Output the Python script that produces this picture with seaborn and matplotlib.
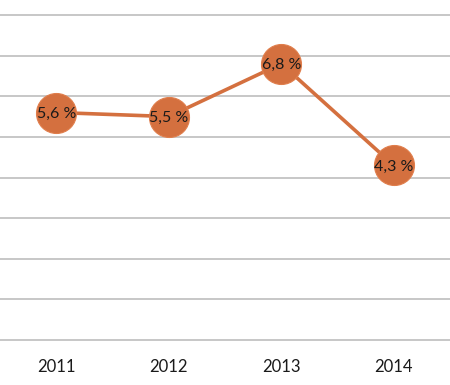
import pandas as pd
import matplotlib.pyplot as plt
import seaborn as sns

sns.set_style("white")
plt.rcParams['font.family'] = ['Lato', 'DejaVu Sans']

# data
years = ["2011", "2012", "2013", "2014"]
values = [5.6, 5.5, 6.8, 4.3]

df = pd.DataFrame({"year": years, "value": values})
orange = "#d4703f"

fig = plt.figure(figsize=(4.5, 3.85), dpi=100)
ax = fig.add_axes([0, 45 / 385, 1, 1 - 15 / 385 - 45 / 385])

sns.lineplot(data=df, x="year", y="value", ax=ax, color=orange, linewidth=2.6,
             marker="o", markersize=28.8, markeredgecolor="#e07e4c",
             markeredgewidth=0.8, sort=False)

# value labels with comma decimal
for i, v in enumerate(values):
    ax.text(i, v, f"{v:.1f} %".replace(".", ","), ha="center",
            va="center_baseline", fontsize=11.5, color="#1a1a1a", zorder=5)

ax.set_xlim(-0.5, 3.5)
ax.set_ylim(0, 8)
ax.set_yticks(range(0, 9))
ax.yaxis.grid(True, color="#b8b8b8", linewidth=1.1)
for gl in ax.get_ygridlines():
    gl.set_clip_on(False)
ax.set_axisbelow(True)
ax.tick_params(axis="y", left=False, labelleft=False)
ax.tick_params(axis="x", bottom=False, labelsize=12, pad=10, colors="#1a1a1a")
ax.set_xlabel("")
ax.set_ylabel("")
for s in ax.spines.values():
    s.set_visible(False)

fig.savefig("out.png", dpi=100)
